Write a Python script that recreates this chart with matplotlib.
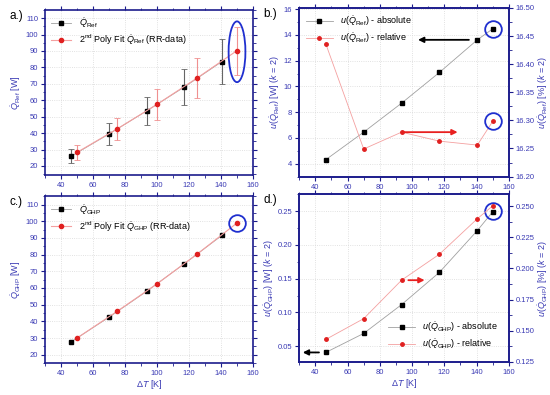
import matplotlib
matplotlib.use("Agg")
from matplotlib import pyplot as plt
from matplotlib.patches import Ellipse
from matplotlib.ticker import MultipleLocator, FormatStrFormatter

plt.rcParams["font.family"] = ["Liberation Sans", "DejaVu Sans"]
plt.rcParams["mathtext.fontset"] = "custom"
plt.rcParams["mathtext.rm"] = "Liberation Sans"
plt.rcParams["mathtext.it"] = "Liberation Sans:italic"

# measured points (black) and 2nd order poly fit points (red)
dt_meas = [46.5, 70, 93.5, 117, 140.5]
dt_fit = [50, 75, 100, 125, 150]
dt_unc = [46.5, 70, 93.5, 117, 140.5, 150]

q_ref = [26.0, 39.5, 53.5, 68.0, 83.5]
q_ref_err = [4.3, 6.45, 8.7, 11.1, 13.6]
q_ref_fit = [28.3, 42.5, 57.5, 73.5, 90.2]
q_ref_fit_err = [4.6, 6.9, 9.4, 12.0, 14.6]

u_ref_abs = [4.31, 6.45, 8.7, 11.09, 13.62, 14.47]
u_ref_rel = [16.436, 16.249, 16.279, 16.263, 16.256, 16.298]

q_ghp = [27.8, 42.5, 58.0, 74.5, 91.5]
q_ghp_fit = [30.0, 46.0, 62.5, 80.3, 99.0]

u_ghp_abs = [0.0406, 0.0688, 0.1115, 0.1594, 0.2213, 0.249]
u_ghp_rel = [0.143, 0.1597, 0.1906, 0.2115, 0.240, 0.2503]

SPINE = "#1c1c8c"
TXT = "#3a3ab4"
GRID = "#d8d8d8"
LINE_K = "#a0a0a0"
LINE_R = "#f4a0a0"
RED = "#e02020"
CIRC = "#1f2fcf"
LBL = 6.5

fig = plt.figure(figsize=(5.5, 3.95), dpi=100)


def style_ticks(ax):
    for s in ax.spines.values():
        s.set_color(SPINE)
        s.set_linewidth(1.2)
    ax.tick_params(which="both", colors=SPINE, labelcolor=TXT, labelsize=5.5,
                   direction="out", pad=2)
    ax.tick_params(which="major", length=3, width=0.8)
    ax.tick_params(which="minor", length=1.8, width=0.6)


def style(ax, twin=False):
    style_ticks(ax)
    ax.set_xlim(30, 160)
    ax.xaxis.set_major_locator(MultipleLocator(20))
    ax.xaxis.set_minor_locator(MultipleLocator(10))
    ax.tick_params(which="both", top=True, right=not twin)
    ax.grid(True, which="major", color=GRID, linestyle=":", linewidth=0.6)
    ax.set_axisbelow(True)


def panel_label(ax, s):
    ax.text(-0.17, 1.0, s, transform=ax.transAxes, fontsize=8.5,
            ha="left", va="top", color="black")


def circle(ax, x, y):
    ax.plot([x], [y], marker="o", markersize=12, markerfacecolor="none",
            markeredgecolor=CIRC, markeredgewidth=1.3, clip_on=False, zorder=6)


# a.)
ax = fig.add_axes([0.082, 0.557, 0.378, 0.418])
style(ax)
ax.errorbar(dt_meas, q_ref, yerr=q_ref_err, fmt="none", ecolor="#666666",
            elinewidth=0.8, capsize=2, capthick=0.6, zorder=3)
ax.errorbar(dt_fit, q_ref_fit, yerr=q_ref_fit_err, fmt="none", ecolor="#f09090",
            elinewidth=0.8, capsize=2, capthick=0.6, zorder=3)
ax.plot(dt_meas, q_ref, color=LINE_K, lw=0.6, marker="s", ms=3.5, mfc="black",
        mec="black", zorder=4, label=r"$\dot{Q}_{\rm Ref}$")
ax.plot(dt_fit, q_ref_fit, color=LINE_R, lw=0.8, marker="o", ms=3, mfc=RED,
        mec=RED, zorder=5, label=r"2$^{\rm nd}$ Poly Fit $\dot{Q}_{\rm Ref}$ (RR-data)")
ax.set_ylim(14.5, 115)
ax.yaxis.set_major_locator(MultipleLocator(10))
ax.yaxis.set_minor_locator(MultipleLocator(5))
ax.set_ylabel(r"$\dot{Q}_{\rm Ref}$ [W]", color=TXT, fontsize=LBL, labelpad=2)
ax.add_patch(Ellipse((150, 89.5), 10.5, 37, fill=False, edgecolor=CIRC, lw=1.3, zorder=6))
ax.legend(loc="upper left", frameon=False, fontsize=6.5, handlelength=2.2,
          borderaxespad=0.3, labelspacing=0.3)
panel_label(ax, "a.)")

# b.)
ax = fig.add_axes([0.544, 0.553, 0.381, 0.427])
style(ax, twin=True)
ax.plot(dt_unc, u_ref_abs, color=LINE_K, lw=0.6, marker="s", ms=3.5,
        mfc="black", mec="black", label=r"$u(\dot{Q}_{\rm Ref})$ - absolute")
ax.set_ylim(3.0, 16.1)
ax.yaxis.set_major_locator(MultipleLocator(2))
ax.yaxis.set_minor_locator(MultipleLocator(1))
ax.set_ylabel(r"$u(\dot{Q}_{\rm Ref})$ [W] ($k$ = 2)", color=TXT, fontsize=LBL, labelpad=1)
axr = ax.twinx()
axr.plot(dt_unc, u_ref_rel, color=LINE_R, lw=0.6, marker="o", ms=2.5,
         mfc=RED, mec=RED, label=r"$u(\dot{Q}_{\rm Ref})$ - relative")
axr.set_ylim(16.2, 16.5)
axr.yaxis.set_major_locator(MultipleLocator(0.05))
axr.yaxis.set_minor_locator(MultipleLocator(0.025))
axr.yaxis.set_major_formatter(FormatStrFormatter("%.2f"))
style_ticks(axr)
axr.set_ylabel(r"$u(\dot{Q}_{\rm Ref})$ [%] ($k$ = 2)", color=TXT, fontsize=LBL, labelpad=1)
ax.annotate("", xy=(102, 13.62), xytext=(137, 13.62),
            arrowprops=dict(arrowstyle="-|>", color="black", lw=1.3, mutation_scale=8))
axr.annotate("", xy=(130, 16.279), xytext=(93, 16.279),
             arrowprops=dict(arrowstyle="-|>", color="#e82020", lw=1.3, mutation_scale=8))
circle(ax, 150, 14.47)
circle(axr, 150, 16.298)
h1, l1 = ax.get_legend_handles_labels()
h2, l2 = axr.get_legend_handles_labels()
ax.legend(h1 + h2, l1 + l2, loc="upper left", frameon=False, fontsize=6.5,
          handlelength=3, borderaxespad=0.3, labelspacing=0.3)
panel_label(ax, "b.)")

# c.)
ax = fig.add_axes([0.082, 0.081, 0.378, 0.422])
style(ax)
ax.plot(dt_meas, q_ghp, color=LINE_K, lw=0.6, marker="s", ms=3.5, mfc="black",
        mec="black", zorder=4, label=r"$\dot{Q}_{\rm GHP}$")
ax.plot(dt_fit, q_ghp_fit, color=LINE_R, lw=0.8, marker="o", ms=3, mfc=RED,
        mec=RED, zorder=5, label=r"2$^{\rm nd}$ Poly Fit $\dot{Q}_{\rm GHP}$ (RR-data)")
ax.set_ylim(15, 115)
ax.yaxis.set_major_locator(MultipleLocator(10))
ax.yaxis.set_minor_locator(MultipleLocator(5))
ax.set_ylabel(r"$\dot{Q}_{\rm GHP}$ [W]", color=TXT, fontsize=LBL, labelpad=2)
ax.set_xlabel(r"$\Delta T$ [K]", color=TXT, fontsize=LBL, labelpad=1)
circle(ax, 150, 99.0)
ax.legend(loc="upper left", frameon=False, fontsize=6.5, handlelength=2.2,
          borderaxespad=0.3, labelspacing=0.3)
panel_label(ax, "c.)")

# d.)
ax = fig.add_axes([0.544, 0.084, 0.381, 0.424])
style(ax, twin=True)
ax.plot(dt_unc, u_ghp_abs, color=LINE_K, lw=0.6, marker="s", ms=3.5,
        mfc="black", mec="black", label=r"$u(\dot{Q}_{\rm GHP})$ - absolute")
ax.set_ylim(0.0267, 0.275)
ax.yaxis.set_major_locator(MultipleLocator(0.05))
ax.yaxis.set_minor_locator(MultipleLocator(0.025))
ax.yaxis.set_major_formatter(FormatStrFormatter("%.2f"))
ax.set_ylabel(r"$u(\dot{Q}_{\rm GHP})$ [W] ($k$ = 2)", color=TXT, fontsize=LBL, labelpad=1)
ax.set_xlabel(r"$\Delta T$ [K]", color=TXT, fontsize=LBL, labelpad=1)
axr = ax.twinx()
axr.plot(dt_unc, u_ghp_rel, color=LINE_R, lw=0.6, marker="o", ms=2.5,
         mfc=RED, mec=RED, label=r"$u(\dot{Q}_{\rm GHP})$ - relative")
axr.set_ylim(0.125, 0.2596)
axr.yaxis.set_major_locator(MultipleLocator(0.025))
axr.yaxis.set_minor_locator(MultipleLocator(0.0125))
axr.yaxis.set_major_formatter(FormatStrFormatter("%.3f"))
style_ticks(axr)
axr.set_ylabel(r"$u(\dot{Q}_{\rm GHP})$ [%] ($k$ = 2)", color=TXT, fontsize=LBL, labelpad=1)
ax.annotate("", xy=(30.5, 0.0406), xytext=(44, 0.0406),
            arrowprops=dict(arrowstyle="-|>", color="black", lw=1.3, mutation_scale=8))
axr.annotate("", xy=(109.5, 0.1906), xytext=(96, 0.1906),
             arrowprops=dict(arrowstyle="-|>", color="#e82020", lw=1.3, mutation_scale=8))
circle(ax, 150, 0.2505)
h1, l1 = ax.get_legend_handles_labels()
h2, l2 = axr.get_legend_handles_labels()
ax.legend(h1 + h2, l1 + l2, loc="lower right", frameon=False, fontsize=6.5,
          handlelength=3, borderaxespad=0.8, labelspacing=0.3)
panel_label(ax, "d.)")

fig.savefig("out.png", dpi=100)
